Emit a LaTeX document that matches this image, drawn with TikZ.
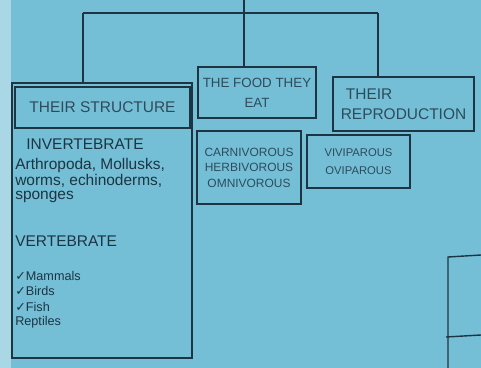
\documentclass[tikz,border=0pt]{standalone}
\usepackage{fontspec}
\setmainfont{Liberation Sans}
\newfontfamily\symfont{DejaVu Sans}
\usetikzlibrary{positioning}
\definecolor{paperblue}{HTML}{74BFD6}
\definecolor{paperedge}{HTML}{A9D7E5}
\definecolor{inkdark}{HTML}{1D3443}
\definecolor{inksoft}{HTML}{2E4B5C}
\newcommand{\tick}{{\symfont\char"2713}}

\begin{document}
\begin{tikzpicture}[
      x=0.025cm, y=-0.025cm,
      ink/.style={draw=inkdark, line width=1pt},
      box/.style={ink, rectangle, inner sep=2pt, align=center, text=inksoft},
      hand/.style={text=inkdark, inner sep=0pt, anchor=west},
      bigtext/.style={font=\fontsize{11}{14}\selectfont},
      smalltext/.style={font=\fontsize{9}{13}\selectfont}
  ]
    % paper
    \fill[paperblue] (0,0) rectangle (481,368);
    \fill[paperedge] (0,0) rectangle (11,368);
    \useasboundingbox (0,0) rectangle (481,368);

    % boxes
    \node[box, minimum width=4.5cm, minimum height=6.875cm] (outer) at (102,220.5) {};
    \node[box, bigtext, minimum width=4.375cm, minimum height=1.025cm] (structure) at (102.5,107.5) {THEIR STRUCTURE};
    \node[box, font=\fontsize{9.5}{14}\selectfont, minimum width=2.95cm, minimum height=1.275cm] (food) at (257,92.5) {THE FOOD THEY\\EAT};
    \node[box, bigtext, align=left, minimum width=3.525cm, minimum height=1.35cm] (repro) at (403.5,104) {\,\,THEIR\\REPRODUCTION};
    \node[box, font=\fontsize{8.5}{11}\selectfont, minimum width=2.6cm, minimum height=1.825cm] (diet) at (249,167.5) {CARNIVOROUS\\HERBIVOROUS\\OMNIVOROUS};
    \node[box, font=\fontsize{8}{12.5}\selectfont, minimum width=2.575cm, minimum height=1.325cm] (birth) at (358.5,161.5) {VIVIPAROUS\\OVIPAROUS};

    % tree
    \coordinate (top) at (244,0);
    \coordinate (hub) at (244,13);
    \coordinate (hubL) at (83,13);
    \coordinate (hubR) at (378,13);
    \draw[ink] (top) -- (hub);
    \draw[ink] (hubL) -- (hubR);
    \draw[ink] (hubL) -- (hubL |- outer.north);
    \draw[ink] (hub) -- (hub |- food.north);
    \draw[ink] (hubR) -- (hubR |- repro.north);

    % structure list
    \node[hand, bigtext, anchor=center] (invert) at (85,144) {INVERTEBRATE};
    \node[hand, bigtext] (arthro) at (15,165) {Arthropoda, Mollusks,};
    \node[hand, bigtext] (worms) at (15,181) {worms, echinoderms,};
    \node[hand, bigtext] (sponge) at (15,197) {sponges};
    \node[hand, bigtext] (vert) at (15,241) {VERTEBRATE};
    \node[hand, smalltext] (mammal) at (15,276) {\tick Mammals};
    \node[hand, smalltext] (bird) at (15,291) {\tick Birds};
    \node[hand, smalltext] (fish) at (15,307) {\tick Fish};
    \node[hand, smalltext] (reptile) at (15,322) {Reptiles};

    % cut-off box at the edge
    \draw[ink] (448,368) -- (448,257) -- (481,255);
    \draw[ink] (446,337) -- (481,335);
\end{tikzpicture}
\end{document}
